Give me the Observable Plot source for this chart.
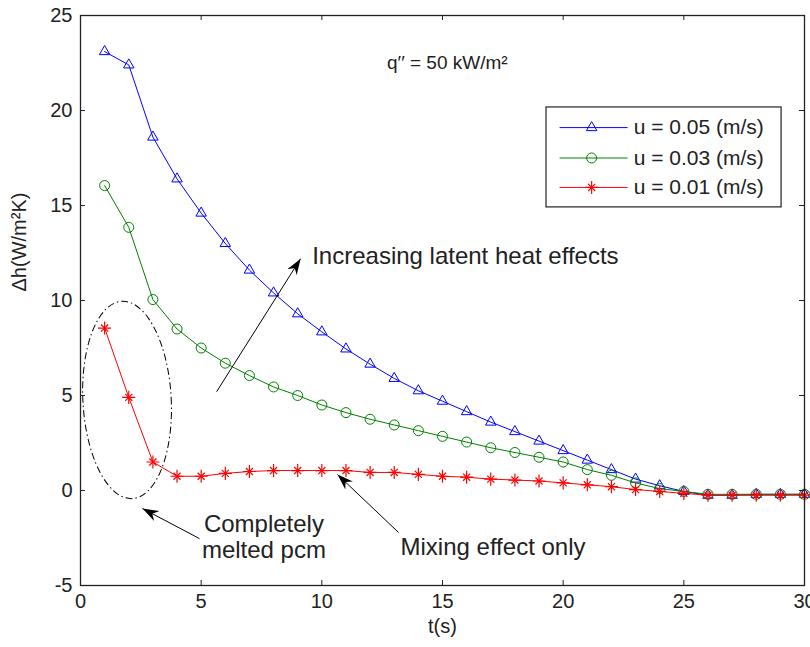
<!DOCTYPE html>
<html><head><meta charset="utf-8">
<script src="https://cdn.jsdelivr.net/npm/d3@7"></script>
<script src="https://cdn.jsdelivr.net/npm/@observablehq/plot@0.6"></script>
<style>
body{margin:0;background:#fff}
#chart{width:810px;height:647px}
</style>
</head><body><div id="chart"></div>
<script>
// ---- data ----
const tValues = [1,2,3,4,5,6,7,8,9,10,11,12,13,14,15,16,17,18,19,20,21,22,23,24,25,26,27,28,29,30];
const h005 = [23.1,22.4,18.6,16.4,14.6,13.0,11.6,10.4,9.3,8.35,7.45,6.65,5.9,5.25,4.7,4.15,3.6,3.1,2.6,2.1,1.6,1.1,0.6,0.25,-0.05,-0.25,-0.25,-0.2,-0.2,-0.2];
const h003 = [16.05,13.85,10.05,8.5,7.5,6.7,6.05,5.45,5.0,4.5,4.1,3.75,3.45,3.15,2.85,2.55,2.25,2.0,1.75,1.5,1.1,0.8,0.4,0.1,-0.05,-0.2,-0.2,-0.2,-0.2,-0.2];
const h001 = [8.55,4.9,1.5,0.75,0.75,0.9,1.0,1.05,1.05,1.05,1.05,0.95,0.95,0.85,0.75,0.7,0.6,0.55,0.5,0.4,0.3,0.2,0.05,-0.05,-0.15,-0.25,-0.25,-0.25,-0.25,-0.25];
const seriesNames = ["u = 0.05 (m/s)", "u = 0.03 (m/s)", "u = 0.01 (m/s)"];
const xTicks = [0,5,10,15,20,25,30];
const yTicks = [-5,0,5,10,15,20,25];
const xLabel = "t(s)";
const yLabel = "Δh(W/m²K)";
const noteFlux = "q′′ = 50 kW/m²";
const noteLatent = "Increasing latent heat effects";
const noteMelted = "Completely\nmelted pcm";
const noteMixing = "Mixing effect only";

// ---- styles ----
const colors = ["#0000ff", "#008000", "#ff0000"];
const W = 810, H = 647, mL = 80, mR = 6, mT = 15, mB = 62;
const innerW = W - mL - mR, innerH = H - mT - mB, tickLen = 5;
const font = "'Liberation Sans', Arial, Helvetica, sans-serif";

// annotation anchors (data units)
const fluxPos = {t: 15.2, h: 22.5};
const latentPos = {t: 9.6, h: 12.3};
const latentArrow = {t1: 5.64, h1: 5.2, t2: 9.12, h2: 12.2};
const meltedPos = {t: 7.6, h: -2.42};
const meltedArrow = {t1: 4.93, h1: -2.53, t2: 2.57, h2: -0.95};
const mixingPos = {t: 13.26, h: -3.0};
const mixingArrow = {t1: 13.18, h1: -2.21, t2: 10.65, h2: 0.84};
const ring = {t: 1.95, h: 4.74, rt: 1.83, rh: 5.2};
const legendBox = {t1: 19.31, t2: 29.05, h1: 14.9, h2: 20.16};
const legendRowsH = [19.1, 17.5, 15.95];
const legendLine = {t1: 19.85, t2: 22.67, tm: 21.18, tText: 22.92};

const ns = "http://www.w3.org/2000/svg";
function arrowHead(color, context) {
  const doc = context.document;
  const m = doc.createElementNS(ns, "marker");
  m.setAttribute("viewBox", "-16 -6 17 12");
  m.setAttribute("markerWidth", 17);
  m.setAttribute("markerHeight", 12);
  m.setAttribute("markerUnits", "userSpaceOnUse");
  m.setAttribute("orient", "auto");
  m.setAttribute("refX", 0);
  m.setAttribute("refY", 0);
  const p = doc.createElementNS(ns, "path");
  p.setAttribute("d", "M0,0L-16,-5.5L-11,0L-16,5.5Z");
  p.setAttribute("fill", "black");
  p.setAttribute("stroke", "none");
  m.appendChild(p);
  return m;
}

function ringMark(index, scales, values, dimensions, context) {
  const doc = context.document;
  const g = doc.createElementNS(ns, "g");
  const e = doc.createElementNS(ns, "ellipse");
  const cx = scales.x(ring.t), cy = scales.y(ring.h);
  e.setAttribute("cx", cx);
  e.setAttribute("cy", cy);
  e.setAttribute("rx", scales.x(ring.t + ring.rt) - cx);
  e.setAttribute("ry", cy - scales.y(ring.h + ring.rh));
  e.setAttribute("transform", `rotate(-3 ${cx} ${cy})`);
  e.setAttribute("fill", "none");
  e.setAttribute("stroke", "black");
  e.setAttribute("stroke-width", 1);
  e.setAttribute("stroke-dasharray", "7,3,1.5,3");
  g.appendChild(e);
  return g;
}

const seriesValues = [h005, h003, h001];
const symbols = ["triangle", "circle", "star8"];
const tables = seriesValues.map(vals => tValues.map((t, i) => ({t, h: vals[i]})));

function symbolMarks(data, k, opts) {
  const c = colors[k];
  if (symbols[k] === "triangle") return [Plot.dot(data, {...opts, symbol: "triangle", r: 3.9, stroke: c, fill: "white", fillOpacity: 0, strokeWidth: 1})];
  if (symbols[k] === "circle") return [Plot.dot(data, {...opts, symbol: "circle", r: 5, stroke: c, fill: "none", strokeWidth: 1})];
  return [
    Plot.dot(data, {...opts, symbol: "plus", r: 4.3, stroke: c, fill: "none", strokeWidth: 1.2}),
    Plot.dot(data, {...opts, symbol: "times", r: 3.3, stroke: c, fill: "none", strokeWidth: 1.2})
  ];
}

const legendData = seriesNames.map((name, k) => ({name, k, h: legendRowsH[k]}));

const marks = [
  ringMark,
  ...tables.flatMap((data, k) => [
    Plot.line(data, {x: "t", y: "h", stroke: colors[k], strokeWidth: 1}),
    ...symbolMarks(data, k, {x: "t", y: "h"})
  ]),
  // frame, ticks, axes
  Plot.frame({stroke: "#222", strokeWidth: 1.3}),
  Plot.tickX(xTicks, {x: d => d, insetTop: innerH - tickLen, stroke: "#222"}),
  Plot.tickX(xTicks, {x: d => d, insetBottom: innerH - tickLen, stroke: "#222"}),
  Plot.tickY(yTicks, {y: d => d, insetRight: innerW - tickLen, stroke: "#222"}),
  Plot.tickY(yTicks, {y: d => d, insetLeft: innerW - tickLen, stroke: "#222"}),
  Plot.axisX(xTicks, {tickSize: 0, tickPadding: 8, fontSize: 20, label: null, tickFormat: d => String(d), fill: "#222"}),
  Plot.axisY(yTicks, {tickSize: 0, tickPadding: 8, fontSize: 20, label: null, tickFormat: d => String(d), fill: "#222"}),
  Plot.text([xLabel], {frameAnchor: "bottom", dy: 47, fontSize: 20, fill: "#222"}),
  Plot.text([yLabel], {frameAnchor: "left", rotate: -90, dx: -61, dy: -9, fontSize: 20, fill: "#222"}),
  // annotations
  Plot.text([noteFlux], {x: () => fluxPos.t, y: () => fluxPos.h, fontSize: 19, fill: "#222"}),
  Plot.text([noteLatent], {x: () => latentPos.t, y: () => latentPos.h, textAnchor: "start", fontSize: 24, fill: "#222"}),
  Plot.link([latentArrow], {x1: "t1", y1: "h1", x2: "t2", y2: "h2", stroke: "black", strokeWidth: 1, markerEnd: arrowHead}),
  Plot.text([noteMelted], {x: () => meltedPos.t, y: () => meltedPos.h, fontSize: 24, lineHeight: 1.1, fill: "#222"}),
  Plot.link([meltedArrow], {x1: "t1", y1: "h1", x2: "t2", y2: "h2", stroke: "black", strokeWidth: 1, markerEnd: arrowHead}),
  Plot.text([noteMixing], {x: () => mixingPos.t, y: () => mixingPos.h, textAnchor: "start", fontSize: 24, fill: "#222"}),
  Plot.link([mixingArrow], {x1: "t1", y1: "h1", x2: "t2", y2: "h2", stroke: "black", strokeWidth: 1, markerEnd: arrowHead}),
  // legend
  Plot.rect([legendBox], {x1: "t1", x2: "t2", y1: "h1", y2: "h2", fill: "white", stroke: "#222", strokeWidth: 1.2}),
  ...legendData.flatMap(d => [
    Plot.link([d], {x1: () => legendLine.t1, x2: () => legendLine.t2, y1: "h", y2: "h", stroke: colors[d.k], strokeWidth: 1}),
    ...symbolMarks([d], d.k, {x: () => legendLine.tm, y: "h"}),
    Plot.text([d], {x: () => legendLine.tText, y: "h", text: "name", textAnchor: "start", fontSize: 21, fill: "#222"})
  ])
];

const chart = Plot.plot({
  width: W, height: H,
  marginLeft: mL, marginRight: mR, marginTop: mT, marginBottom: mB,
  x: {domain: [0, 30]},
  y: {domain: [-5, 25]},
  style: {fontFamily: font, background: "white", color: "#222", overflow: "visible"},
  marks
});
document.getElementById("chart").appendChild(chart);
</script>
</body></html>
